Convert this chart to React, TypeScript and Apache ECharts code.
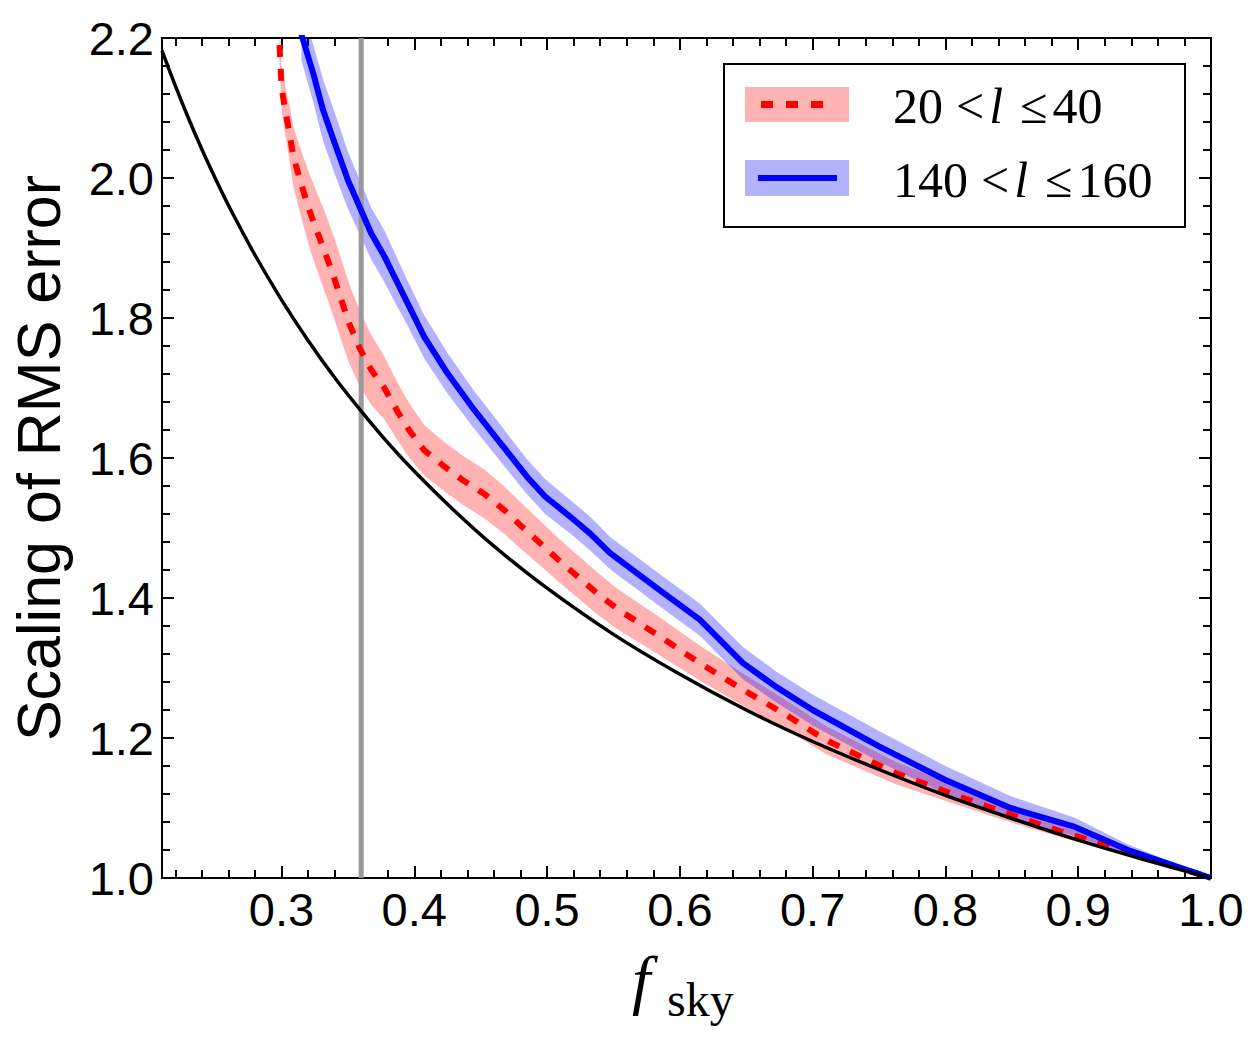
import React, { useEffect, useRef } from "react";
import * as echarts from "echarts";

// 20 < l <= 40 : mean scaling and half-width of its scatter band
const fskyRed = [0.2985, 0.3, 0.3025, 0.306, 0.309, 0.314, 0.32, 0.3263, 0.3325, 0.339, 0.345, 0.351, 0.3588, 0.3675, 0.3775, 0.3875, 0.396, 0.4075, 0.4225, 0.436, 0.4525, 0.4675, 0.481, 0.495, 0.51, 0.5375, 0.5525, 0.585, 0.615, 0.6475, 0.68, 0.71, 0.7625, 0.8125, 0.85, 0.8875, 0.95, 1.0];
const rmsRed = [2.19, 2.13, 2.1, 2.064, 2.03, 1.997, 1.959, 1.926, 1.895, 1.861, 1.826, 1.792, 1.757, 1.726, 1.7, 1.666, 1.64, 1.611, 1.588, 1.569, 1.549, 1.526, 1.502, 1.478, 1.452, 1.407, 1.385, 1.345, 1.307, 1.269, 1.233, 1.197, 1.15, 1.115, 1.09, 1.066, 1.03, 1.0];
const spreadRed = [0.026, 0.031, 0.035, 0.039, 0.043, 0.047, 0.052, 0.055, 0.057, 0.058, 0.058, 0.057, 0.054, 0.05, 0.045, 0.041, 0.039, 0.036, 0.035, 0.035, 0.035, 0.034, 0.033, 0.032, 0.031, 0.03, 0.029, 0.027, 0.025, 0.023, 0.021, 0.02, 0.016, 0.013, 0.011, 0.008, 0.005, 0];

// 140 < l <= 160
const fskyBlue = [0.315, 0.3238, 0.3313, 0.34, 0.35, 0.3588, 0.3675, 0.3775, 0.385, 0.395, 0.4075, 0.425, 0.445, 0.465, 0.485, 0.4985, 0.5175, 0.5325, 0.5475, 0.585, 0.615, 0.6475, 0.6725, 0.7, 0.75, 0.8, 0.849, 0.8975, 0.9375, 1.0];
const rmsBlue = [2.205, 2.15, 2.097, 2.05, 1.997, 1.959, 1.921, 1.888, 1.859, 1.821, 1.773, 1.721, 1.669, 1.621, 1.573, 1.545, 1.516, 1.492, 1.464, 1.411, 1.369, 1.307, 1.273, 1.24, 1.188, 1.14, 1.1, 1.073, 1.04, 1.0];
const spreadBlue = [0.037, 0.041, 0.044, 0.044, 0.041, 0.039, 0.037, 0.037, 0.035, 0.032, 0.031, 0.029, 0.027, 0.026, 0.025, 0.025, 0.024, 0.024, 0.023, 0.023, 0.023, 0.023, 0.022, 0.022, 0.022, 0.02, 0.017, 0.013, 0.008, 0];

// full-sky reference curve
const fskyFull = [0.21, 0.22, 0.23, 0.24, 0.25, 0.26, 0.27, 0.28, 0.3, 0.32, 0.34, 0.36, 0.38, 0.4, 0.43, 0.46, 0.5, 0.55, 0.6, 0.65, 0.7, 0.75, 0.8, 0.85, 0.9, 0.95, 1.0];
const rmsFull = [2.182, 2.132, 2.085, 2.041, 2.0, 1.961, 1.925, 1.89, 1.826, 1.768, 1.715, 1.667, 1.622, 1.581, 1.525, 1.474, 1.414, 1.348, 1.291, 1.24, 1.195, 1.155, 1.118, 1.085, 1.054, 1.026, 1.0];

// sky-fraction cut marked by the vertical line
const fskyCut = 0.36;

const xMin = 0.21;
const xMax = 1.0;
const yMin = 1.0;
const yMax = 2.2;
const xMajorTicks = [0.3, 0.4, 0.5, 0.6, 0.7, 0.8, 0.9, 1.0];
const xMinorTicks = [0.22, 0.24, 0.26, 0.28, 0.32, 0.34, 0.36, 0.38, 0.42, 0.44, 0.46, 0.48, 0.52, 0.54, 0.56, 0.58, 0.62, 0.64, 0.66, 0.68, 0.72, 0.74, 0.76, 0.78, 0.82, 0.84, 0.86, 0.88, 0.92, 0.94, 0.96, 0.98];

const yTitle = "Scaling of RMS error";
const legendRed = "{d|20}{lt|<}{i|l}{le|≤}{d|40}";
const legendBlue = "{d|140}{lt|<}{i|l}{le|≤}{d|160}";

const SANS = "'Liberation Sans', Arial, sans-serif";
const SERIF = "'Liberation Serif', 'Times New Roman', serif";

function bandSeries(xs: number[], ys: number[], spread: number[], fill: string) {
  return {
    type: "custom",
    clip: true,
    silent: true,
    data: xs.map((x, i) => [x, ys[i] - spread[i], ys[i] + spread[i]]),
    encode: { x: 0, y: [1, 2] },
    renderItem: (params: any, api: any) => {
      if (params.dataIndex !== 0) return null;
      const upper = xs.map((x, i) => api.coord([x, ys[i] + spread[i]]));
      const lower = xs.map((x, i) => api.coord([x, ys[i] - spread[i]])).reverse();
      return {
        type: "polygon",
        shape: { points: upper.concat(lower) },
        style: { fill, stroke: null },
      };
    },
  };
}

function xAxisDef(position: "bottom" | "top", ticks: number[], len: number, labels: boolean) {
  return {
    type: "value",
    position,
    min: xMin,
    max: xMax,
    splitLine: { show: false },
    axisLine: { show: true, onZero: false, lineStyle: { color: "#000", width: 2 } },
    axisTick: { show: true, inside: true, length: len, customValues: ticks, lineStyle: { color: "#000", width: 2 } },
    axisLabel: labels
      ? {
          show: true,
          customValues: xMajorTicks,
          formatter: (v: number) => v.toFixed(1),
          fontFamily: SANS,
          fontSize: 47,
          color: "#000",
          margin: 8,
        }
      : { show: false },
  };
}

function yAxisDef(position: "left" | "right", labels: boolean) {
  return {
    type: "value",
    position,
    min: yMin,
    max: yMax,
    interval: 0.2,
    splitLine: { show: false },
    axisLine: { show: true, onZero: false, lineStyle: { color: "#000", width: 2 } },
    axisTick: { show: true, inside: true, length: 12, lineStyle: { color: "#000", width: 2 } },
    minorTick: { show: true, splitNumber: 5, length: 8, lineStyle: { color: "#000", width: 2 } },
    axisLabel: labels
      ? {
          show: true,
          formatter: (v: number) => v.toFixed(1),
          fontFamily: SANS,
          fontSize: 47,
          color: "#000",
          margin: 8,
        }
      : { show: false },
    name: labels ? yTitle : "",
    nameLocation: "middle",
    nameGap: 93,
    nameTextStyle: { fontFamily: SANS, fontSize: 61, color: "#000" },
  };
}

export default function App() {
  const ref = useRef<HTMLDivElement>(null);

  useEffect(() => {
    if (!ref.current) return;
    const chart = echarts.init(ref.current, null, { renderer: "svg" });
    const base = { fontFamily: SERIF, fontSize: 50, fill: "#000" };
    const legendRich = {
      d: { ...base },
      lt: { ...base, padding: [0, 5, 0, 13] },
      i: { ...base, fontStyle: "italic" },
      le: { ...base, padding: [0, 5, 0, 17] },
    };
    chart.setOption({
      animation: false,
      backgroundColor: "#fff",
      grid: { left: 160, top: 38, width: 1051, height: 840, containLabel: false },
      xAxis: [
        xAxisDef("bottom", xMajorTicks, 12, true),
        xAxisDef("bottom", xMinorTicks, 8, false),
        xAxisDef("top", xMajorTicks, 12, false),
        xAxisDef("top", xMinorTicks, 8, false),
      ],
      yAxis: [yAxisDef("left", true), yAxisDef("right", false)],
      series: [
        bandSeries(fskyRed, rmsRed, spreadRed, "rgba(255,0,0,0.3)"),
        bandSeries(fskyBlue, rmsBlue, spreadBlue, "rgba(0,0,255,0.3)"),
        {
          type: "line",
          data: [
            [fskyCut, yMin],
            [fskyCut, yMax],
          ],
          symbol: "none",
          silent: true,
          lineStyle: { color: "#999999", width: 5 },
        },
        {
          type: "line",
          data: fskyRed.map((f, i) => [f, rmsRed[i]]),
          symbol: "none",
          silent: true,
          clip: true,
          lineStyle: { color: "#ff0000", width: 6, type: [12, 12], cap: "butt" },
        },
        {
          type: "line",
          data: fskyBlue.map((f, i) => [f, rmsBlue[i]]),
          symbol: "none",
          silent: true,
          clip: true,
          lineStyle: { color: "#0000ff", width: 6 },
        },
        {
          type: "line",
          data: fskyFull.map((f, i) => [f, rmsFull[i]]),
          symbol: "none",
          smooth: 0.3,
          silent: true,
          clip: true,
          lineStyle: { color: "#000", width: 3.5 },
        },
      ],
      graphic: [
        {
          type: "rect",
          z: 100,
          shape: { x: 724, y: 64, width: 461, height: 163 },
          style: { fill: "#fff", stroke: "#000", lineWidth: 2 },
        },
        {
          type: "rect",
          z: 101,
          shape: { x: 745, y: 87, width: 104, height: 35 },
          style: { fill: "rgba(255,0,0,0.3)" },
        },
        {
          type: "line",
          z: 102,
          shape: { x1: 761, y1: 104.5, x2: 823, y2: 104.5 },
          style: { stroke: "#ff0000", lineWidth: 7, lineDash: [12, 13] },
        },
        {
          type: "rect",
          z: 101,
          shape: { x: 745, y: 160, width: 104, height: 36 },
          style: { fill: "rgba(0,0,255,0.3)" },
        },
        {
          type: "line",
          z: 102,
          shape: { x1: 758, y1: 178, x2: 837, y2: 178 },
          style: { stroke: "#0000ff", lineWidth: 6 },
        },
        {
          type: "text",
          z: 102,
          x: 893,
          y: 106,
          style: { text: legendRed, verticalAlign: "middle", rich: legendRich },
        },
        {
          type: "text",
          z: 102,
          x: 893,
          y: 180,
          style: { text: legendBlue, verticalAlign: "middle", rich: legendRich },
        },
        {
          type: "text",
          z: 102,
          x: 632,
          y: 979,
          style: { text: "f", fontFamily: SERIF, fontStyle: "italic", fontSize: 66, fill: "#000", verticalAlign: "middle" },
        },
        {
          type: "text",
          z: 102,
          x: 667,
          y: 999,
          style: { text: "sky", fontFamily: SERIF, fontSize: 48, fill: "#000", verticalAlign: "middle" },
        },
      ],
    });
    return () => chart.dispose();
  }, []);

  return (
    <div
      ref={ref}
      style={{ position: "absolute", left: 0, top: 0, width: 1258, height: 1042 }}
    />
  );
}
